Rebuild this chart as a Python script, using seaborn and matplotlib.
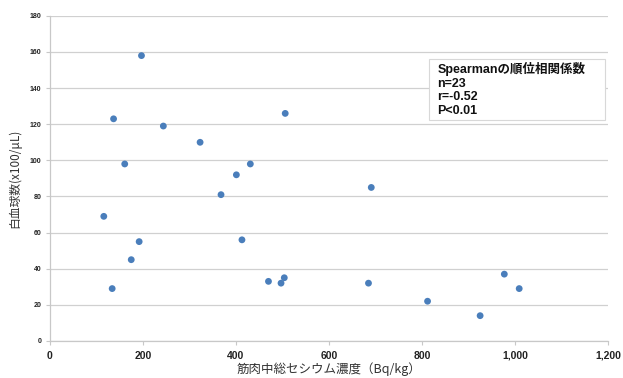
import matplotlib
matplotlib.use("Agg")
import matplotlib.pyplot as plt
from matplotlib.patches import Rectangle
import seaborn as sns
import pandas as pd

# Total cesium concentration in muscle (Bq/kg) vs. white blood cell count (x100/μL)
cesium = [116, 137, 161, 197, 244, 323, 368, 401, 431, 506, 691,
          134, 175, 192, 413, 470, 497, 504, 685, 812, 925, 977, 1009]
wbc = [69, 123, 98, 158, 119, 110, 81, 92, 98, 126, 85,
       29, 45, 55, 56, 33, 32, 35, 32, 22, 14, 37, 29]

x_ticks = [0, 200, 400, 600, 800, 1000, 1200]
x_tick_labels = ["0", "200", "400", "600", "800", "1,000", "1,200"]
y_ticks = [0, 20, 40, 60, 80, 100, 120, 140, 160, 180]

stats_lines = ["Spearmanの順位相関係数", "n=23", "r=-0.52", "P<0.01"]

df = pd.DataFrame({"cesium": cesium, "wbc": wbc})

sns.set_theme(style="white")
plt.rcParams["font.family"] = ["Liberation Sans", "Noto Sans CJK JP", "DejaVu Sans"]

fig = plt.figure(figsize=(6.23, 3.78), dpi=100)
ax = fig.add_axes([0.080, 0.098, 0.896, 0.860])

sns.scatterplot(data=df, x="cesium", y="wbc", ax=ax, color="#4a7ebb",
                s=24, edgecolor="none", zorder=3)

ax.set_xlim(0, 1200)
ax.set_ylim(0, 180)
ax.set_xticks(x_ticks)
ax.set_xticklabels(x_tick_labels, fontsize=7.5, fontweight="bold", color="#222222")
ax.set_yticks(y_ticks)
ax.set_yticklabels([str(v) for v in y_ticks], fontsize=5, fontweight="bold", color="#222222")

ax.yaxis.grid(True, color="#d0d0d0", linewidth=0.9)
ax.xaxis.grid(False)
ax.set_axisbelow(True)

for side in ["top", "right"]:
    ax.spines[side].set_visible(False)
for side in ["left", "bottom"]:
    ax.spines[side].set_color("#c8c8c8")
    ax.spines[side].set_linewidth(0.9)

ax.tick_params(axis="x", which="major", direction="out", length=3, width=0.8,
               color="#c8c8c8", pad=4, bottom=True)
ax.tick_params(axis="y", which="major", length=3, width=0.8, color="#c8c8c8",
               pad=3, left=True)

ax.set_xlabel("筋肉中総セシウム濃度（Bq/kg）", fontsize=9, color="#333333",
              family=["Noto Sans CJK JP", "DejaVu Sans"], labelpad=1)
ax.set_ylabel("白血球数(x100/μL)", fontsize=8.5, color="#333333",
              family=["Noto Sans CJK JP", "DejaVu Sans"], labelpad=6)

# Statistics box
ax.add_patch(Rectangle((0.680, 0.680), 0.314, 0.188, transform=ax.transAxes,
                       facecolor="white", edgecolor="#d8d8d8", linewidth=0.8,
                       zorder=4))
ax.text(0.694, 0.858, "\n".join(stats_lines), transform=ax.transAxes,
        fontsize=9, fontweight="bold", color="#111111", va="top", ha="left",
        linespacing=1.17, zorder=5,
        family=["Liberation Sans", "Noto Sans CJK JP", "DejaVu Sans"])

fig.savefig("out.png", dpi=100)
